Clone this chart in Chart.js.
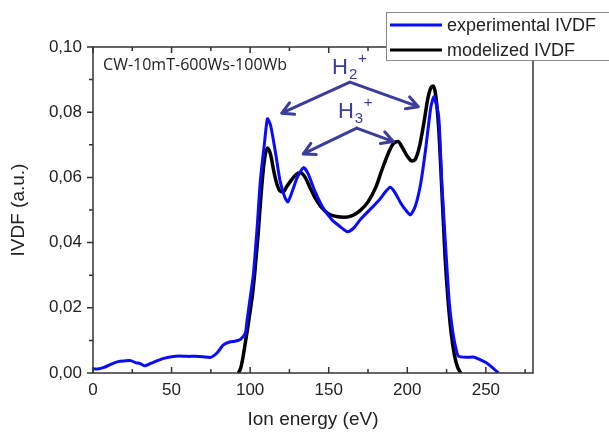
<!DOCTYPE html>
<html>
<head>
<meta charset="utf-8">
<script src="https://cdn.jsdelivr.net/npm/chart.js@4.4.0/dist/chart.umd.min.js"></script>
<style>
body { margin: 0; background: #fff; }
</style>
</head>
<body>
<canvas id="myChart" width="609" height="432"></canvas>
<script>
// experimental IVDF (blue)
var expE = [0, 3, 7, 12, 16, 20, 24, 27, 30, 33, 37, 41, 45, 50, 55, 60, 65, 70, 75, 79, 83, 87, 91, 94, 97, 98, 100, 102, 104.5, 106.5, 109, 111, 113, 116, 119, 122, 124, 127, 130, 134, 137, 141, 146, 152, 157, 162, 166, 170, 176, 182, 186, 189, 192, 196, 199, 202, 205, 208.5, 211.5, 215, 217, 220, 222, 224.5, 226.5, 228, 229.5, 231, 232.5, 238, 242, 246, 250, 254, 258];
var expV = [0.0013, 0.0012, 0.0017, 0.0028, 0.0035, 0.0037, 0.0038, 0.0032, 0.0029, 0.0022, 0.003, 0.0038, 0.0045, 0.005, 0.0052, 0.0051, 0.0051, 0.005, 0.0048, 0.0062, 0.0086, 0.0095, 0.0098, 0.0104, 0.0123, 0.016, 0.023, 0.03, 0.045, 0.059, 0.07, 0.078, 0.076, 0.068, 0.059, 0.054, 0.0525, 0.056, 0.06, 0.063, 0.061, 0.056, 0.051, 0.047, 0.045, 0.0433, 0.0445, 0.047, 0.05, 0.053, 0.0555, 0.057, 0.0555, 0.052, 0.05, 0.0485, 0.051, 0.058, 0.068, 0.0816, 0.0847, 0.0785, 0.058, 0.038, 0.023, 0.016, 0.011, 0.0075, 0.0052, 0.0048, 0.0049, 0.0042, 0.0032, 0.0017, 0];

// modelized IVDF (black)
var modE = [92.5, 94, 95.5, 97, 98.5, 100, 101.5, 103, 105, 107, 109, 111, 113, 115, 117, 119, 121, 123, 126, 129, 132, 135, 138, 141, 145, 150, 155, 160, 165, 170, 175, 180, 184, 188, 191, 194, 197, 200, 203, 205, 208, 211, 213, 215, 216.5, 218, 220, 222, 224, 226, 228, 230, 232, 234];
var modV = [0, 0.0015, 0.005, 0.0095, 0.014, 0.019, 0.024, 0.031, 0.042, 0.055, 0.065, 0.069, 0.067, 0.062, 0.058, 0.0558, 0.0555, 0.057, 0.059, 0.0608, 0.0614, 0.06, 0.057, 0.054, 0.051, 0.0488, 0.048, 0.0478, 0.0483, 0.0498, 0.0525, 0.057, 0.0625, 0.0675, 0.0703, 0.071, 0.069, 0.0665, 0.065, 0.0655, 0.07, 0.078, 0.084, 0.0875, 0.088, 0.0855, 0.075, 0.056, 0.036, 0.022, 0.012, 0.0055, 0.0018, 0];

var xTicks = [0, 50, 100, 150, 200, 250];
var xMinor = [25, 75, 125, 175, 225, 275];
var yTicks = [0, 0.02, 0.04, 0.06, 0.08, 0.10];
var yMinor = [0.01, 0.03, 0.05, 0.07, 0.09];
var seriesNames = ['experimental IVDF', 'modelized IVDF'];
var seriesColors = ['#0a0aff', '#000000'];
var sampleLabel = 'CW-10mT-600Ws-100Wb';

var FONT = "'Liberation Sans', Arial, sans-serif";
var ANN = '#3c3c9c';

function pts(xs, ys) {
	return xs.map(function (x, i) { return {x: x, y: ys[i]}; });
}

function arrow(ctx, x0, y0, x1, y1) {
	var a = Math.atan2(y1 - y0, x1 - x0);
	ctx.beginPath();
	ctx.moveTo(x0, y0);
	ctx.lineTo(x1, y1);
	ctx.moveTo(x1 - 13 * Math.cos(a - 0.5), y1 - 13 * Math.sin(a - 0.5));
	ctx.lineTo(x1, y1);
	ctx.lineTo(x1 - 13 * Math.cos(a + 0.5), y1 - 13 * Math.sin(a + 0.5));
	ctx.stroke();
}

function ion(ctx, x, y, sub) {
	ctx.font = '22px ' + FONT;
	ctx.textBaseline = 'alphabetic';
	ctx.fillText('H', x, y);
	var w = ctx.measureText('H').width;
	ctx.font = '15px ' + FONT;
	ctx.fillText(sub, x + w + 1, y + 5);
	ctx.fillText('+', x + w + 10, y - 11);
}

var framePlugin = {
	id: 'frame',
	afterDatasetsDraw: function (chart) {
		var ctx = chart.ctx, a = chart.chartArea;
		var sx = chart.scales.x, sy = chart.scales.y;
		ctx.save();
		ctx.strokeStyle = '#333';
		ctx.lineWidth = 1.5;
		ctx.strokeRect(a.left, a.top, a.right - a.left, a.bottom - a.top);
		ctx.beginPath();
		xTicks.forEach(function (v) {
			var p = sx.getPixelForValue(v);
			ctx.moveTo(p, a.bottom); ctx.lineTo(p, a.bottom - 6);
			ctx.moveTo(p, a.top); ctx.lineTo(p, a.top + 6);
		});
		xMinor.forEach(function (v) {
			var p = sx.getPixelForValue(v);
			ctx.moveTo(p, a.bottom); ctx.lineTo(p, a.bottom - 4);
			ctx.moveTo(p, a.top); ctx.lineTo(p, a.top + 4);
		});
		yTicks.forEach(function (v) {
			var p = sy.getPixelForValue(v);
			ctx.moveTo(a.left, p); ctx.lineTo(a.left - 6, p);
		});
		yMinor.forEach(function (v) {
			var p = sy.getPixelForValue(v);
			ctx.moveTo(a.left, p); ctx.lineTo(a.left - 4, p);
		});
		ctx.stroke();

		// annotations
		ctx.fillStyle = '#222';
		ctx.font = "16px 'Open Sans', sans-serif";
		ctx.textBaseline = 'alphabetic';
		ctx.fillText(sampleLabel, sx.getPixelForValue(6.4), sy.getPixelForValue(0.0928));

		ctx.strokeStyle = ANN;
		ctx.fillStyle = ANN;
		ctx.lineWidth = 3;
		ctx.lineCap = 'round';
		ctx.lineJoin = 'round';
		var X = function (v) { return sx.getPixelForValue(v); };
		var Y = function (v) { return sy.getPixelForValue(v); };
		arrow(ctx, X(163.5), Y(0.0892), X(120.1), Y(0.0797));
		arrow(ctx, X(163.5), Y(0.0892), X(207.0), Y(0.0817));
		arrow(ctx, X(167.8), Y(0.0751), X(133.8), Y(0.0672));
		arrow(ctx, X(167.8), Y(0.0751), X(191.1), Y(0.0710));
		ion(ctx, X(152.1), Y(0.0917), '2');
		ion(ctx, X(155.9), Y(0.0782), '3');
		ctx.restore();
	},
	afterDraw: function (chart) {
		var ctx = chart.ctx;
		ctx.save();
		ctx.fillStyle = '#fff';
		ctx.fillRect(386.5, 12.5, 240, 48);
		ctx.strokeStyle = '#8a8a8a';
		ctx.lineWidth = 1;
		ctx.strokeRect(386.5, 12.5, 240, 48);
		chart.data.datasets.forEach(function (ds, i) {
			var y = 25 + i * 25;
			ctx.strokeStyle = ds.borderColor;
			ctx.lineWidth = 3;
			ctx.beginPath();
			ctx.moveTo(390, y); ctx.lineTo(442, y);
			ctx.stroke();
			ctx.fillStyle = '#222';
			ctx.font = '18px ' + FONT;
			ctx.textBaseline = 'middle';
			ctx.fillText(ds.label, 447, y + 1);
		});
		ctx.restore();
	}
};

var ctx = document.getElementById('myChart').getContext('2d');
var chart = new Chart(ctx, {
	type: 'line',
	data: {
		datasets: [{
			label: seriesNames[0],
			data: pts(expE, expV),
			borderColor: seriesColors[0],
			borderWidth: 3,
			pointRadius: 0,
			tension: 0.2,
			fill: false
		}, {
			label: seriesNames[1],
			data: pts(modE, modV),
			borderColor: seriesColors[1],
			borderWidth: 3.5,
			pointRadius: 0,
			cubicInterpolationMode: 'monotone',
			fill: false
		}]
	},
	options: {
		responsive: false,
		animation: false,
		devicePixelRatio: 1,
		layout: { padding: { top: 47, right: 76, left: 0, bottom: 0 } },
		plugins: { legend: { display: false }, tooltip: { enabled: false } },
		scales: {
			x: {
				type: 'linear',
				min: 0,
				max: 280,
				afterBuildTicks: function (s) { s.ticks = xTicks.map(function (v) { return {value: v}; }); },
				afterFit: function (s) { s.height = 59; },
				grid: { display: false, drawTicks: false },
				border: { display: false },
				ticks: { font: { size: 17, family: FONT }, color: '#222', padding: 7, maxRotation: 0, autoSkip: false },
				title: { display: true, text: 'Ion energy (eV)', font: { size: 19, family: FONT }, color: '#222', padding: { top: 0, bottom: 1 } }
			},
			y: {
				min: 0,
				max: 0.1,
				afterBuildTicks: function (s) { s.ticks = yTicks.map(function (v) { return {value: v}; }); },
				afterFit: function (s) { s.width = 93; },
				grid: { display: false, drawTicks: false },
				border: { display: false },
				ticks: {
					font: { size: 17, family: FONT }, color: '#222', padding: 11,
					callback: function (v) { return v.toFixed(2).replace('.', ','); }
				},
				title: { display: true, text: 'IVDF (a.u.)', font: { size: 19, family: FONT }, color: '#222', padding: { top: 7, bottom: 0 } }
			}
		}
	},
	plugins: [framePlugin]
});
</script>
</body>
</html>
